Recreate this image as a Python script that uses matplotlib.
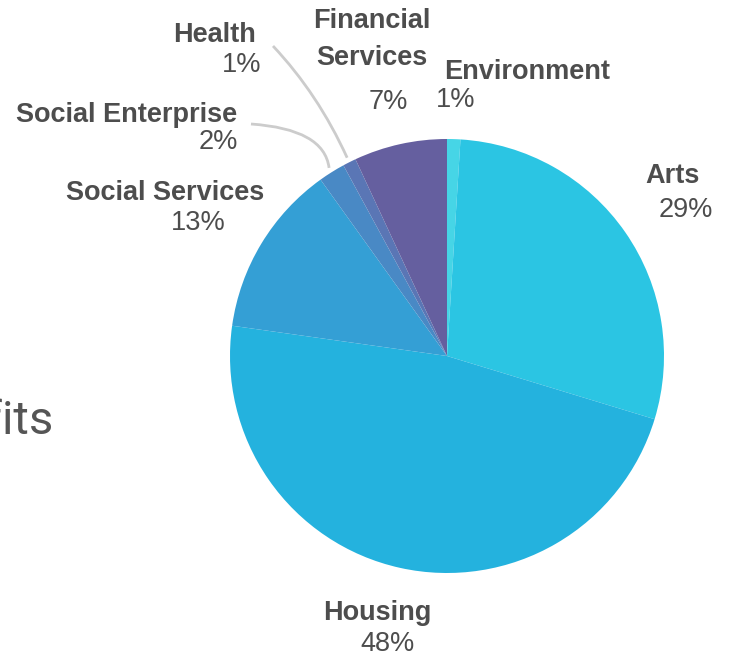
import matplotlib
matplotlib.use("Agg")
import matplotlib.pyplot as plt
from matplotlib.path import Path
from matplotlib.patches import PathPatch
import numpy as np

sectors = ["Environment", "Arts", "Housing", "Social Services",
           "Social Enterprise", "Health", "Financial Services"]
shares = [1, 29, 48, 13, 2, 1, 7]
colors = ["#46d5e6", "#2bc5e3", "#24b2de", "#349fd5",
          "#4989c5", "#5a76b5", "#655f9f"]

# label placement in pixel space: name x, name line y's, value x, value y
label_pos = {
    "Environment": (527, [72], 456, 100),
    "Arts": (673, [176], 686, 210),
    "Housing": (377, [613], 388, 644),
    "Social Services": (165, [193], 198, 223),
    "Social Enterprise": (127, [115], 218, 142),
    "Health": (215, [35], 242, 65),
    "Financial Services": (372, [21, 58], 388, 102),
}
connectors = {"Social Enterprise": (251, 124), "Health": (273, 46)}

W, H = 729, 655
fig = plt.figure(figsize=(W / 100, H / 100), dpi=100)
ax = fig.add_axes([0, 0, 1, 1])

cx, cy, r = 447, H - 356, 217
wedges, _ = ax.pie(shares, colors=colors, startangle=90, counterclock=False,
                   center=(cx, cy), radius=r, frame=True,
                   wedgeprops=dict(linewidth=0))
ax.set_xlim(0, W)
ax.set_ylim(0, H)
ax.set_aspect("equal")
ax.axis("off")

text_color = "#4d4d4d"
font = "Liberation Sans"
for name, share, w in zip(sectors, shares, wedges):
    nx, name_ys, vx, vy = label_pos[name]
    for line, ly in zip(name.split(" ") if len(name_ys) > 1 else [name], name_ys):
        ax.text(nx, H - ly, line, ha="center", va="center", fontsize=19.5,
                fontweight="bold", color=text_color, family=font)
    ax.text(vx, H - vy, f"{share}%", ha="center", va="center",
            fontsize=19.5, color=text_color, family=font)
    if name in connectors:
        mid = np.deg2rad((w.theta1 + w.theta2) / 2)
        ex, ey = cx + (r + 5) * np.cos(mid), cy + (r + 5) * np.sin(mid)
        sx, sy = connectors[name]
        sy = H - sy
        if name == "Social Enterprise":
            ctrl = (ex - 5, sy - 5)
        else:
            ctrl = ((sx + ex) / 2 + 8, (sy + ey) / 2 + 8)
        path = Path([(sx, sy), ctrl, (ex, ey)],
                    [Path.MOVETO, Path.CURVE3, Path.CURVE3])
        ax.add_patch(PathPatch(path, fill=False, edgecolor="#cccccc", linewidth=2))

# title fragment running off the left edge
ax.text(53, H - 434, "Benefits", ha="right", va="baseline", fontsize=34,
        color="#555555", family="Roboto")

fig.savefig("out.png", dpi=100)
